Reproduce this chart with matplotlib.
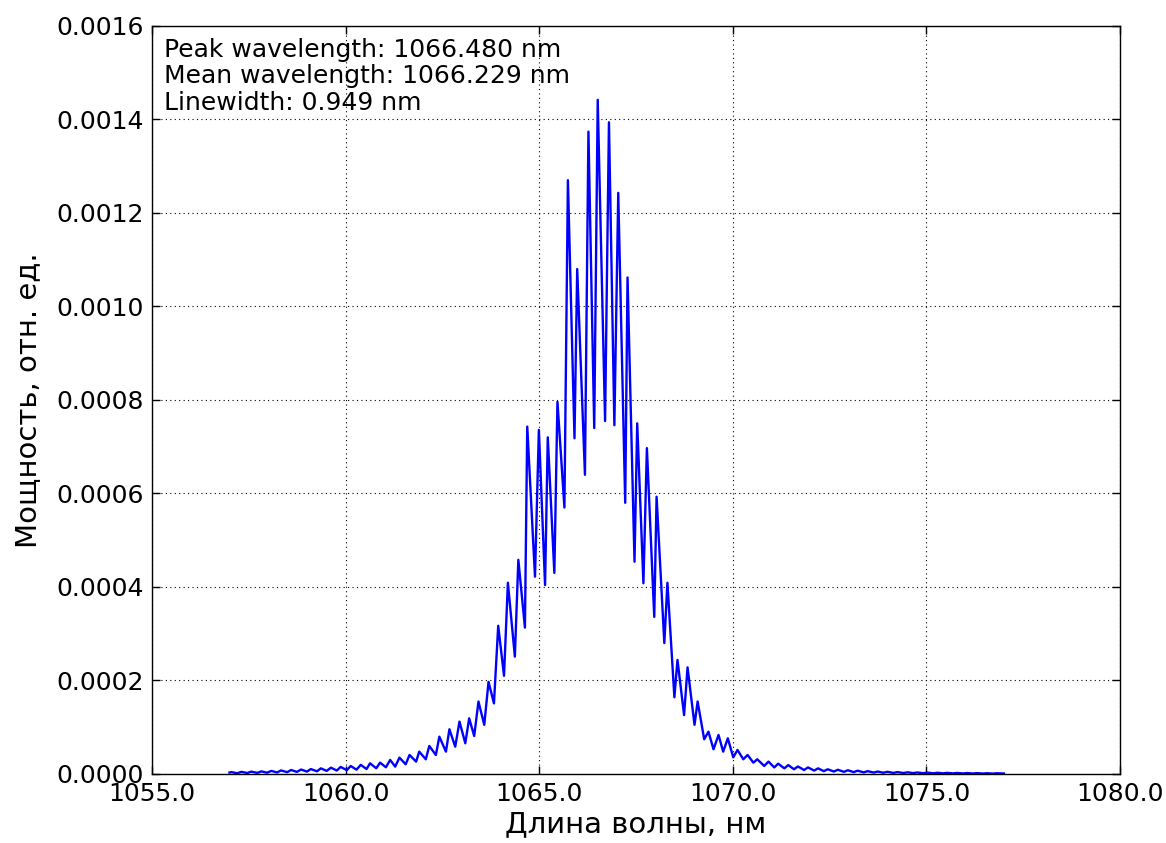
import numpy as np
import matplotlib
matplotlib.use('Agg')
import matplotlib.pyplot as plt
from matplotlib.ticker import FormatStrFormatter, MultipleLocator

# Spectrum: fringe maxima and minima (nm, rel. units)
peak_nm = [1057.05, 1057.31, 1057.56, 1057.82, 1058.08, 1058.33, 1058.59, 1058.85,
           1059.10, 1059.36, 1059.62, 1059.87, 1060.13, 1060.39, 1060.63,
           1060.89, 1061.15, 1061.39, 1061.65, 1061.90, 1062.16, 1062.42, 1062.68,
           1062.94, 1063.19, 1063.43, 1063.69, 1063.94, 1064.19, 1064.46, 1064.69,
           1064.99, 1065.22, 1065.47, 1065.74, 1065.98, 1066.27, 1066.51, 1066.80,
           1067.04, 1067.28, 1067.53, 1067.78, 1068.03, 1068.31, 1068.57, 1068.83,
           1069.09, 1069.37, 1069.63, 1069.87, 1070.12, 1070.38, 1070.63, 1070.92,
           1071.17, 1071.43, 1071.68, 1071.94, 1072.20, 1072.45, 1072.71, 1072.97,
           1073.22, 1073.48, 1073.74, 1073.99, 1074.25, 1074.51, 1074.76, 1075.02,
           1075.28, 1075.53, 1075.79, 1076.05, 1076.30, 1076.56, 1076.82]
peak_val = [4.0e-6, 4.5e-6, 5.0e-6, 5.5e-6, 6.5e-6, 7.5e-6, 8.5e-6, 9.5e-6,
            1.05e-5, 1.2e-5, 1.35e-5, 1.5e-5, 1.7e-5, 1.95e-5, 2.28e-5,
            2.42e-5, 3.0e-5, 3.49e-5, 4.06e-5, 4.77e-5, 5.99e-5, 7.98e-5, 9.56e-5,
            1.12e-4, 1.19e-4, 1.55e-4, 1.97e-4, 3.17e-4, 4.09e-4, 4.58e-4, 7.43e-4,
            7.36e-4, 7.20e-4, 7.96e-4, 1.27e-3, 1.08e-3, 1.374e-3, 1.442e-3, 1.394e-3,
            1.243e-3, 1.062e-3, 7.50e-4, 6.97e-4, 5.93e-4, 4.09e-4, 2.44e-4, 2.28e-4,
            1.55e-4, 9.05e-5, 8.34e-5, 7.63e-5, 5.13e-5, 4.06e-5, 3.14e-5, 2.64e-5,
            2.2e-5, 1.9e-5, 1.6e-5, 1.4e-5, 1.2e-5, 1.0e-5, 9.0e-6, 8.0e-6,
            7.0e-6, 6.0e-6, 5.2e-6, 4.6e-6, 4.0e-6, 3.6e-6, 3.2e-6, 2.9e-6,
            2.6e-6, 2.4e-6, 2.2e-6, 2.0e-6, 1.8e-6, 1.6e-6, 1.5e-6]

valley_nm = [1057.00, 1057.20, 1057.46, 1057.72, 1057.97, 1058.23, 1058.49, 1058.74,
             1059.00, 1059.26, 1059.51, 1059.77, 1060.03, 1060.28, 1060.54, 1060.79,
             1061.04, 1061.28, 1061.55, 1061.82, 1062.07, 1062.33, 1062.59, 1062.83,
             1063.09, 1063.32, 1063.58, 1063.83, 1064.09, 1064.37, 1064.63, 1064.89,
             1065.15, 1065.39, 1065.65, 1065.91, 1066.18, 1066.42, 1066.70, 1066.94,
             1067.22, 1067.46, 1067.69, 1067.97, 1068.23, 1068.49, 1068.74, 1069.01,
             1069.26, 1069.50, 1069.75, 1070.01, 1070.27, 1070.53, 1070.81,
             1071.07, 1071.33, 1071.58, 1071.84, 1072.10, 1072.35, 1072.61, 1072.87,
             1073.12, 1073.38, 1073.64, 1073.89, 1074.15, 1074.41, 1074.66, 1074.92,
             1075.18, 1075.43, 1075.69, 1075.95, 1076.20, 1076.46, 1076.72, 1077.00]
valley_val = [3.0e-6, 1.5e-6, 2.0e-6, 2.3e-6, 2.7e-6, 3.2e-6, 3.8e-6, 4.4e-6,
              5.0e-6, 5.7e-6, 6.5e-6, 7.3e-6, 8.2e-6, 9.2e-6, 1.05e-5, 1.22e-5,
              1.43e-5, 1.57e-5, 2.07e-5, 2.64e-5, 3.14e-5, 4.06e-5, 4.77e-5, 5.84e-5,
              6.57e-5, 8.13e-5, 1.05e-4, 1.51e-4, 2.10e-4, 2.51e-4, 3.13e-4, 4.22e-4,
              4.04e-4, 4.30e-4, 5.70e-4, 7.18e-4, 6.40e-4, 7.40e-4, 7.55e-4, 7.46e-4,
              5.80e-4, 4.54e-4, 4.08e-4, 3.36e-4, 2.80e-4, 1.64e-4, 1.26e-4, 1.05e-4,
              7.42e-5, 5.28e-5, 4.77e-5, 3.56e-5, 3.14e-5, 2.42e-5, 1.71e-5,
              1.4e-5, 1.2e-5, 1.0e-5, 8.5e-6, 7.2e-6, 6.0e-6, 5.2e-6, 4.5e-6,
              3.9e-6, 3.4e-6, 3.0e-6, 2.6e-6, 2.3e-6, 2.0e-6, 1.8e-6, 1.6e-6,
              1.4e-6, 1.3e-6, 1.2e-6, 1.1e-6, 1.0e-6, 9.0e-7, 8.0e-7, 1.0e-6]

info_lines = ['Peak wavelength: 1066.480 nm',
              'Mean wavelength: 1066.229 nm',
              'Linewidth: 0.949 nm']

# merge maxima and minima into one trace
wl = np.array(peak_nm + valley_nm)
pw = np.array(peak_val + valley_val)
order = np.argsort(wl)
wl = wl[order]
pw = pw[order]

fig = plt.figure(figsize=(11.66, 8.43), dpi=100)
ax = fig.add_axes([0.1304, 0.0819, 0.8302, 0.8873])

ax.plot(wl, pw, color='#0000ff', linewidth=1.7, solid_joinstyle='round')

ax.set_xlim(1055, 1080)
ax.set_ylim(0, 0.0016)
ax.xaxis.set_major_locator(MultipleLocator(5))
ax.yaxis.set_major_locator(MultipleLocator(0.0002))
ax.xaxis.set_major_formatter(FormatStrFormatter('%.1f'))
ax.yaxis.set_major_formatter(FormatStrFormatter('%.4f'))
ax.tick_params(direction='in', top=True, right=True, length=6, width=1,
               labelsize=18, pad=6)
ax.grid(True, color='black', linestyle=(0, (1, 3)), linewidth=0.8)
for sp in ax.spines.values():
    sp.set_linewidth(1.0)

ax.set_xlabel('Длина волны, нм', fontsize=21, labelpad=3)
ax.set_ylabel('Мощность, отн. ед.', fontsize=21, labelpad=10)

ax.text(0.012, 0.984, '\n'.join(info_lines), transform=ax.transAxes,
        ha='left', va='top', fontsize=18, linespacing=1.13)

fig.savefig('out.png', dpi=100)
